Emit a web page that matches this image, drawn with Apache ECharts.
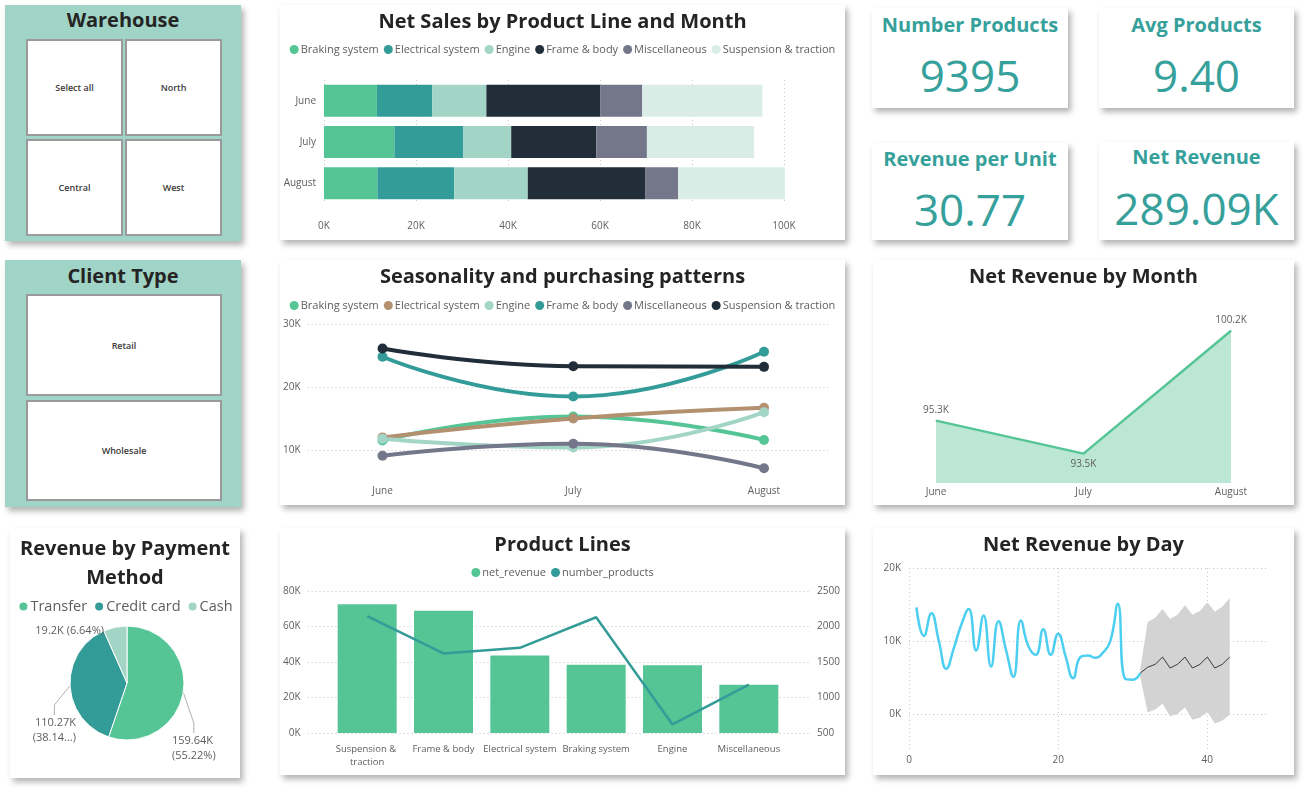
<!DOCTYPE html>
<html><head><meta charset="utf-8">
<script src="https://cdn.jsdelivr.net/npm/echarts@6/dist/echarts.min.js"></script>
<style>
body{margin:0;width:1311px;height:789px;background:#fff;position:relative;overflow:hidden;font-family:'Segoe UI','Open Sans',sans-serif;}
.p{position:absolute;background:#fff;box-shadow:3px 4px 6px rgba(0,0,0,0.30);}
.teal{background:#9fd4c7;}
.st{position:absolute;left:0;right:0;text-align:center;font-weight:700;font-size:20px;color:#252423;height:26px;line-height:26px;}
.btn{position:absolute;background:#fff;border:2px solid #9a9a9a;box-sizing:border-box;display:flex;align-items:center;justify-content:center;font-size:9px;font-weight:600;color:#3b3a39;}
.ct{position:absolute;left:0;right:0;text-align:center;font-weight:700;font-size:20px;color:#36a09b;height:26px;line-height:26px;}
.cv{position:absolute;left:0;right:0;text-align:center;font-weight:400;font-size:44px;color:#36a09b;height:60px;line-height:60px;}
</style></head><body>

<div class="p teal" style="left:5px;top:5px;width:236px;height:236px;">
  <div class="st" style="top:2px;">Warehouse</div>
  <div class="btn" style="left:21px;top:34px;width:97px;height:97px;">Select all</div>
  <div class="btn" style="left:120px;top:34px;width:97px;height:97px;">North</div>
  <div class="btn" style="left:21px;top:134px;width:97px;height:97px;">Central</div>
  <div class="btn" style="left:120px;top:134px;width:97px;height:97px;">West</div>
</div>
<div class="p teal" style="left:5px;top:260px;width:236px;height:247px;">
  <div class="st" style="top:3px;">Client Type</div>
  <div class="btn" style="left:21px;top:34px;width:196px;height:102px;">Retail</div>
  <div class="btn" style="left:21px;top:140px;width:196px;height:101px;">Wholesale</div>
</div>

<div class="p" style="left:872px;top:8px;width:196px;height:100px;">
  <div class="ct" style="top:4px;">Number Products</div><div class="cv" id="v1" style="top:37px;"></div></div>
<div class="p" style="left:1099px;top:8px;width:195px;height:100px;">
  <div class="ct" style="top:4px;">Avg Products</div><div class="cv" id="v2" style="top:37px;"></div></div>
<div class="p" style="left:872px;top:143px;width:196px;height:97px;">
  <div class="ct" style="top:3px;">Revenue per Unit</div><div class="cv" id="v3" style="top:36px;"></div></div>
<div class="p" style="left:1099px;top:142px;width:195px;height:98px;">
  <div class="ct" style="top:2px;">Net Revenue</div><div class="cv" id="v4" style="top:36px;"></div></div>

<div class="p" id="cBar" style="left:280px;top:5px;width:565px;height:235px;"></div>
<div class="p" id="cSeas" style="left:280px;top:260px;width:565px;height:245px;"></div>
<div class="p" id="cProd" style="left:280px;top:528px;width:565px;height:247px;"></div>
<div class="p" id="cPie" style="left:10px;top:528px;width:230px;height:250px;"></div>
<div class="p" id="cMonth" style="left:873px;top:260px;width:421px;height:245px;"></div>
<div class="p" id="cDay" style="left:873px;top:528px;width:421px;height:247px;"></div>

<script>
// ---------- DATA ----------
const months = ['June', 'July', 'August'];
const productLines = ['Braking system', 'Electrical system', 'Engine', 'Frame & body', 'Miscellaneous', 'Suspension & traction'];
// net sales per product line, per month [June, July, August]
const brakingSales    = [11500, 15300, 11600];
const electricalSales = [12000, 15000, 16700];
const engineSales     = [11800, 10400, 16000];
const frameSales      = [24800, 18500, 25600];
const miscSales       = [9100, 11000, 7100];
const suspensionSales = [26100, 23300, 23200];

const monthRevenue = [95300, 93500, 100200];

const productCats = ['Suspension & traction', 'Frame & body', 'Electrical system', 'Braking system', 'Engine', 'Miscellaneous'];
const productRevenue = [72600, 68900, 43700, 38400, 38200, 27200];
const productCount = [2145, 1620, 1700, 2130, 620, 1180];

const payMethods = ['Transfer', 'Credit card', 'Cash'];
const payRevenue = [159640, 110270, 19200];
const payLabels = ['159.64K\n(55.22%)', '110.27K\n(38.14...)', '19.2K (6.64%)'];

const days = [1,2,3,4,5,6,7,8,9,10,11,12,13,14,15,16,17,18,19,20,21,22,23,24,25,26,27,28,29,30,31];
const dayRevenue = [14600,10700,13800,10000,6200,9000,12200,14400,8700,13500,6500,12700,8800,5100,12800,9300,8100,11600,8100,11000,7900,4900,7800,8000,7700,8400,10000,15100,4800,4700,5600];
const fcDays = [31,32,33,34,35,36,37,38,39,40,41,42,43];
const fcValue = [5600,6400,6800,7800,6300,6800,7800,6300,6800,7800,6300,6800,7800];
const fcUpper = [6100,12600,13200,14400,13000,13600,14900,13600,14100,15300,14000,14700,15900];
const fcLower = [5100,200,600,1400,-300,0,900,-800,-500,300,-1300,-900,-100];

const cardNumberProducts = '9395';
const cardAvgProducts = '9.40';
const cardRevenuePerUnit = '30.77';
const cardNetRevenue = '289.09K';

// ---------- STYLE ----------
const FF = "'Segoe UI','Open Sans',sans-serif";
const TXT = '#605e5c';
const TITLE = {fontSize: 20, fontWeight: 'bold', color: '#252423', fontFamily: FF};
const GRID_LINE = {lineStyle: {type: [1, 3], color: '#c8c8c8', width: 1}};
const barColors = ['#55c596', '#339c98', '#a3d5c7', '#212d39', '#747789', '#d9ede6'];
const seasColors = ['#55c596', '#b39070', '#a3d5c7', '#339c98', '#747789', '#212d39'];
const kfmt = v => (v / 1000) + 'K';
const ALT_LINES = ['rgba(0,0,0,0)', '#c8c8c8', 'rgba(0,0,0,0)', '#c8c8c8', 'rgba(0,0,0,0)', '#c8c8c8'];
// pie label placement (text anchor, relative to the pie panel) and alignment
const pieLabelPos = [{x: 162, y: 220, align: 'left'}, {x: 66, y: 202, align: 'right'}, {x: 94, y: 103, align: 'right'}];

document.getElementById('v1').textContent = cardNumberProducts;
document.getElementById('v2').textContent = cardAvgProducts;
document.getElementById('v3').textContent = cardRevenuePerUnit;
document.getElementById('v4').textContent = cardNetRevenue;

const salesByLine = [brakingSales, electricalSales, engineSales, frameSales, miscSales, suspensionSales];

function legendCfg(top, size) {
  return {top: top, left: 'center', icon: 'circle', itemWidth: 9, itemHeight: 9, itemGap: 5,
    textStyle: {fontSize: size, color: TXT, fontFamily: FF, padding: [0, 0, 0, -3]}};
}
const NOAX = {axisLine: {show: false}, axisTick: {show: false}};

// ---------- Net Sales stacked bar ----------
echarts.init(document.getElementById('cBar')).setOption({
  animation: false,
  textStyle: {fontFamily: FF},
  title: {text: 'Net Sales by Product Line and Month', left: 'center', top: 2, textStyle: TITLE},
  legend: Object.assign(legendCfg(34, 11), {data: productLines}),
  grid: {left: 44, right: 61, top: 75, height: 124},
  xAxis: Object.assign({type: 'value', min: 0, max: 100000, interval: 20000,
    axisLabel: {formatter: kfmt, color: TXT, fontSize: 10, margin: 17}, splitLine: GRID_LINE}, NOAX),
  yAxis: Object.assign({type: 'category', data: months, inverse: true,
    axisLabel: {color: TXT, fontSize: 10, margin: 8}}, NOAX),
  series: productLines.map((n, i) => ({
    name: n, type: 'bar', stack: 'sales', data: salesByLine[i], barWidth: 32, clip: false,
    itemStyle: {color: barColors[i]}
  }))
});

// ---------- Seasonality lines ----------
echarts.init(document.getElementById('cSeas')).setOption({
  animation: false,
  textStyle: {fontFamily: FF},
  title: {text: 'Seasonality and purchasing patterns', left: 'center', top: 2, textStyle: TITLE},
  legend: Object.assign(legendCfg(35, 11), {data: productLines}),
  grid: {left: 27, right: 15, top: 64, height: 157.5},
  xAxis: Object.assign({type: 'value', min: -0.393, max: 2.346,
    axisLabel: {customValues: [0, 1, 2], formatter: v => months[v], color: TXT, fontSize: 10, margin: 5,
      showMinLabel: true, showMaxLabel: true},
    splitLine: {show: false}}, NOAX),
  yAxis: Object.assign({type: 'value', min: 5000, max: 30000, interval: 5000,
    axisLabel: {formatter: v => (v % 10000 === 0 ? kfmt(v) : ''), color: TXT, fontSize: 10, margin: 7},
    splitLine: {lineStyle: {type: [1, 3], width: 1, color: ALT_LINES}}}, NOAX),
  series: productLines.map((n, i) => ({
    name: n, type: 'line', smooth: 0.5, symbol: 'circle', symbolSize: 10,
    data: months.map((m, j) => [j, salesByLine[i][j]]),
    itemStyle: {color: seasColors[i]}, lineStyle: {width: 4, color: seasColors[i]}
  }))
});

// ---------- Product Lines combo ----------
// grid 0 carries the (wider) gridlines and value labels, grid 1 carries the categories and marks
echarts.init(document.getElementById('cProd')).setOption({
  animation: false,
  textStyle: {fontFamily: FF},
  title: {text: 'Product Lines', left: 'center', top: 2, textStyle: TITLE},
  legend: Object.assign(legendCfg(34, 11), {data: ['net_revenue', 'number_products']}),
  grid: [{left: 27, right: 35, top: 63, height: 142}, {left: 49, right: 58, top: 63, height: 142}],
  xAxis: [
    Object.assign({type: 'value', gridIndex: 0, min: 0, max: 1, show: false}, NOAX),
    Object.assign({type: 'category', gridIndex: 1, data: productCats,
      axisLabel: {interval: 0, color: TXT, fontSize: 9.5, margin: 10, width: 76, overflow: 'break', lineHeight: 13}}, NOAX)
  ],
  yAxis: [
    Object.assign({type: 'value', gridIndex: 0, min: 0, max: 80000, interval: 20000,
      axisLabel: {formatter: kfmt, color: TXT, fontSize: 10, margin: 7}, splitLine: GRID_LINE}, NOAX),
    Object.assign({type: 'value', gridIndex: 0, position: 'right', min: 500, max: 2500, interval: 500,
      axisLabel: {formatter: v => String(v), color: TXT, fontSize: 10, margin: 7}, splitLine: {show: false}}, NOAX),
    {type: 'value', gridIndex: 1, min: 0, max: 80000, show: false},
    {type: 'value', gridIndex: 1, min: 500, max: 2500, show: false}
  ],
  series: [
    {name: 'net_revenue', type: 'bar', xAxisIndex: 1, yAxisIndex: 2, barWidth: 59, data: productRevenue,
      itemStyle: {color: '#55c596'}},
    {name: 'number_products', type: 'line', xAxisIndex: 1, yAxisIndex: 3, symbol: 'none', data: productCount,
      itemStyle: {color: '#339c98'}, lineStyle: {width: 2.5, color: '#339c98'}}
  ]
});

// ---------- Pie ----------
echarts.init(document.getElementById('cPie')).setOption({
  animation: false,
  textStyle: {fontFamily: FF},
  title: {text: 'Revenue by Payment\nMethod', left: 'center', top: 2,
    textStyle: Object.assign({}, TITLE, {lineHeight: 29})},
  legend: {top: 66, left: 'center', icon: 'circle', itemWidth: 10, itemHeight: 10, itemGap: 6,
    textStyle: {fontSize: 14.5, color: TXT, fontFamily: FF, padding: [0, 0, 0, -3]}, data: payMethods},
  color: ['#55c596', '#339c98', '#a3d5c7'],
  series: [{
    type: 'pie', center: [117, 155], radius: 57, startAngle: 90, clockwise: true,
    data: payMethods.map((n, i) => ({name: n, value: payRevenue[i]})),
    label: {formatter: p => payLabels[p.dataIndex], color: TXT, fontSize: 11, lineHeight: 15,
      overflow: 'none', alignTo: 'none', edgeDistance: 0, bleedMargin: 0},
    labelLine: {length: 5, length2: 10, lineStyle: {color: '#b0b0b0'}},
    labelLayout: function (params) {
      const p = pieLabelPos[params.dataIndex];
      return {x: p.x, y: p.y, align: p.align, verticalAlign: 'middle'};
    },
    itemStyle: {borderColor: '#fff', borderWidth: 1}
  }]
});

// ---------- Net Revenue by Month ----------
echarts.init(document.getElementById('cMonth')).setOption({
  animation: false,
  textStyle: {fontFamily: FF},
  title: {text: 'Net Revenue by Month', left: 'center', top: 2, textStyle: TITLE},
  grid: {left: 63, right: 63, top: 56, height: 167},
  xAxis: Object.assign({type: 'category', data: months, boundaryGap: false,
    axisLabel: {color: TXT, fontSize: 10, margin: 4}}, NOAX),
  yAxis: {type: 'value', min: 91900, max: 101000, show: false},
  series: [{
    type: 'line', symbol: 'circle', symbolSize: 1, showSymbol: true,
    data: monthRevenue.map((v, i) => ({value: v,
      label: {position: (i > 0 && i < monthRevenue.length - 1 && v < monthRevenue[i - 1] && v < monthRevenue[i + 1]) ? 'bottom' : 'top'}})),
    itemStyle: {color: '#55c596'},
    lineStyle: {color: '#55c596', width: 2.5},
    areaStyle: {color: '#bce7d4', opacity: 1},
    label: {show: true, formatter: p => (p.value / 1000).toFixed(1) + 'K', color: TXT, fontSize: 10, distance: 5}
  }]
});

// ---------- Net Revenue by Day ----------
echarts.init(document.getElementById('cDay')).setOption({
  animation: false,
  textStyle: {fontFamily: FF},
  title: {text: 'Net Revenue by Day', left: 'center', top: 2, textStyle: TITLE},
  grid: {left: 36, right: 27, top: 40, height: 182.5},
  xAxis: Object.assign({type: 'value', min: 0, max: 48, interval: 20,
    axisLabel: {color: TXT, fontSize: 10, margin: 5, showMaxLabel: false},
    splitLine: Object.assign({showMaxLine: false}, GRID_LINE)}, NOAX),
  yAxis: Object.assign({type: 'value', min: -5000, max: 20000, interval: 5000,
    axisLabel: {formatter: v => (v % 10000 === 0 ? kfmt(v) : ''), color: TXT, fontSize: 10, margin: 8},
    splitLine: {lineStyle: {type: [1, 3], width: 1, color: ALT_LINES}}}, NOAX),
  series: [
    {type: 'custom', silent: true,
      data: fcDays.map((d, i) => [d, fcLower[i], fcUpper[i]]),
      encode: {x: 0, y: [1, 2]},
      renderItem: function (params, api) {
        if (params.dataIndex !== 0) return null;
        const pts = [];
        for (let i = 0; i < fcDays.length; i++) pts.push(api.coord([fcDays[i], fcUpper[i]]));
        for (let i = fcDays.length - 1; i >= 0; i--) pts.push(api.coord([fcDays[i], fcLower[i]]));
        return {type: 'polygon', shape: {points: pts}, style: {fill: '#d3d3d3'}};
      }},
    {type: 'line', smooth: 0.5, symbol: 'none', data: days.map((d, i) => [d, dayRevenue[i]]),
      lineStyle: {color: '#4ccff0', width: 2.5}},
    {type: 'line', symbol: 'none', data: fcDays.map((d, i) => [d, fcValue[i]]),
      lineStyle: {color: '#3a3a3a', width: 1}}
  ]
});
</script>
</body></html>
